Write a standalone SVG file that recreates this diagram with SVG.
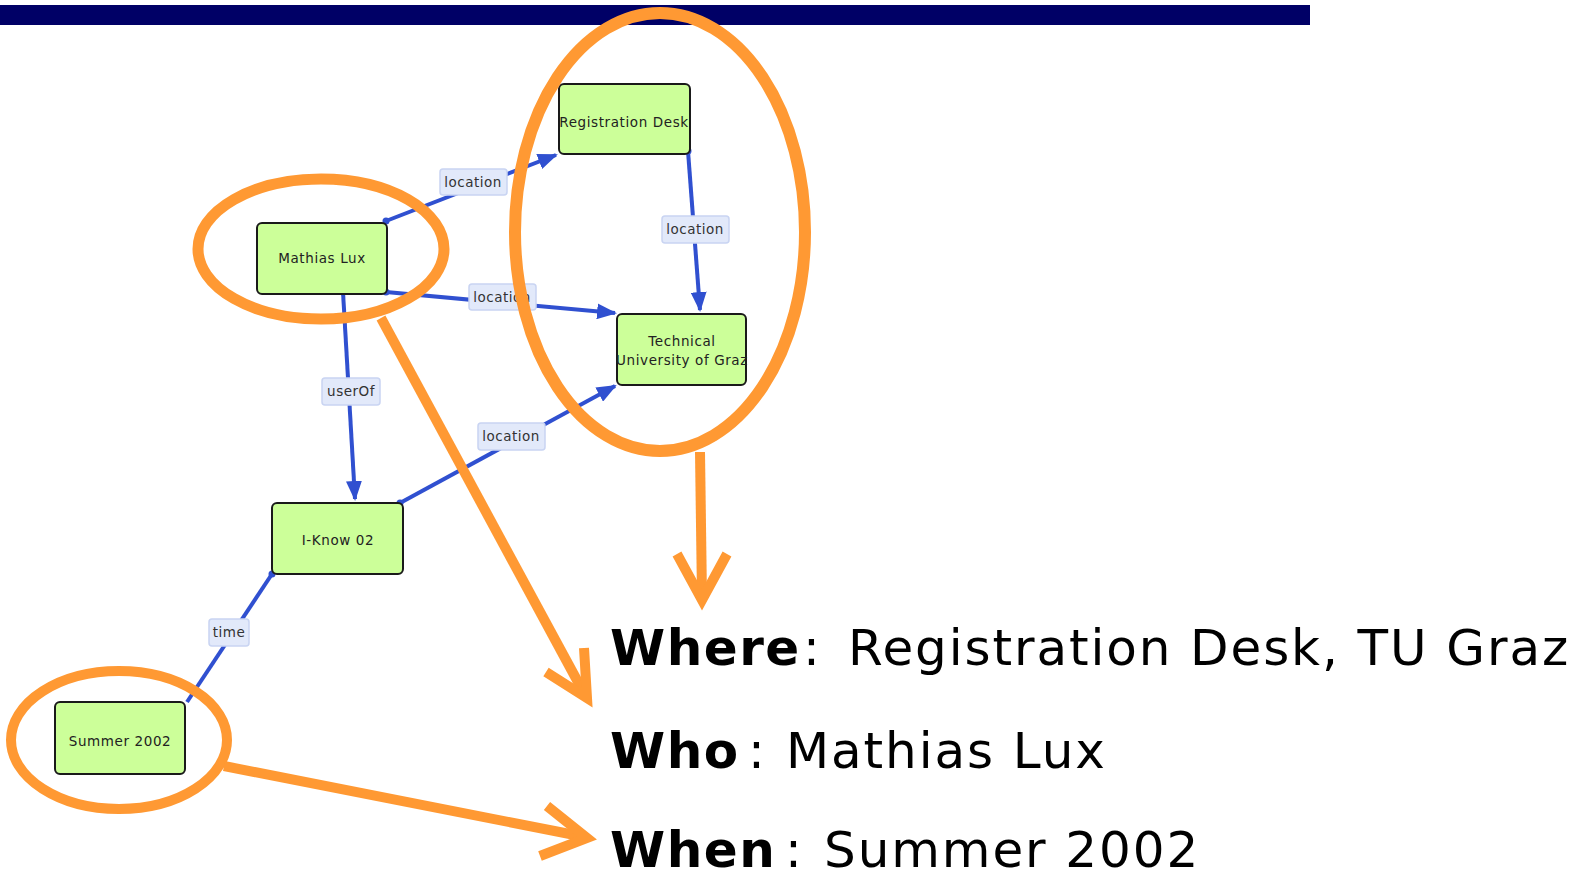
<svg xmlns="http://www.w3.org/2000/svg" width="1580" height="875" viewBox="0 0 1580 875">
<style>
.node rect{fill:#ccff99;stroke:#1a1a1a;stroke-width:2}
.node text{font-family:"DejaVu Sans",Verdana,sans-serif;font-size:13.5px;letter-spacing:0.6px;fill:#222;text-anchor:middle}
.edge{stroke:#3050d0;stroke-width:4;fill:none}
.dot{fill:#3050d0}
.lbl rect{fill:#e2e9fa;stroke:#c9d4f2;stroke-width:1.5}
.lbl text{font-family:"DejaVu Sans",Verdana,sans-serif;font-size:13.5px;letter-spacing:0.5px;fill:#333;text-anchor:middle}
.or{stroke:#ff9933;fill:none;stroke-linecap:butt;stroke-linejoin:miter}
.big{font-family:"DejaVu Sans",Verdana,sans-serif;font-size:50px;fill:#000}
.b{font-weight:bold;letter-spacing:1.5px}
.r{letter-spacing:1.9px}
</style>
<defs>
<marker id="ah" markerWidth="5" markerHeight="4" refX="4.5" refY="2" orient="auto" markerUnits="strokeWidth">
<path d="M0,0 L5,2 L0,4 z" fill="#3050d0"/>
</marker>
</defs>
<rect x="0" y="5" width="1310" height="20" fill="#000066"/>
<g id="connectors">
<line class="edge" x1="386" y1="221" x2="556" y2="155" marker-end="url(#ah)"/>
<line class="edge" x1="688" y1="151" x2="700" y2="310" marker-end="url(#ah)"/>
<line class="edge" x1="386" y1="292" x2="615" y2="313" marker-end="url(#ah)"/>
<line class="edge" x1="343" y1="292" x2="355" y2="499" marker-end="url(#ah)"/>
<line class="edge" x1="400" y1="503" x2="615" y2="386" marker-end="url(#ah)"/>
<line class="edge" x1="272" y1="574" x2="187" y2="702"/>
<circle class="dot" cx="386" cy="221" r="3.5"/>
<circle class="dot" cx="386" cy="292" r="3.5"/>
<circle class="dot" cx="343" cy="292" r="3.5"/>
<circle class="dot" cx="688" cy="151" r="3.5"/>
<circle class="dot" cx="400" cy="503" r="3.5"/>
<circle class="dot" cx="272" cy="574" r="3.5"/>
<g class="lbl"><rect x="440" y="169" width="67" height="26" rx="3"/><text x="473" y="187">location</text></g>
<g class="lbl"><rect x="662" y="216" width="67" height="27" rx="3"/><text x="695" y="234">location</text></g>
<g class="lbl"><rect x="469" y="284" width="67" height="26" rx="3"/><text x="502" y="302">location</text></g>
<g class="lbl"><rect x="322" y="378" width="58" height="27" rx="3"/><text x="351" y="396">userOf</text></g>
<g class="lbl"><rect x="478" y="423" width="67" height="27" rx="3"/><text x="511" y="441">location</text></g>
<g class="lbl"><rect x="209" y="619" width="40" height="27" rx="3"/><text x="229" y="637">time</text></g>
</g>
<g id="n-mathias" class="node"><rect x="257" y="223" width="130" height="71" rx="5"/><text x="322" y="263">Mathias Lux</text></g>
<g id="n-regdesk" class="node"><rect x="559" y="84" width="131" height="70" rx="5"/><text x="624" y="127">Registration Desk</text></g>
<g id="n-tug" class="node"><rect x="617" y="314" width="129" height="71" rx="5"/><text x="682" y="346">Technical</text><text x="682" y="365">University of Graz</text></g>
<g id="n-iknow" class="node"><rect x="272" y="503" width="131" height="71" rx="5"/><text x="338" y="545">I-Know 02</text></g>
<g id="n-summer" class="node"><rect x="55" y="702" width="130" height="72" rx="5"/><text x="120" y="746">Summer 2002</text></g>
<g id="annotations">
<ellipse class="or" cx="321" cy="249" rx="123" ry="70" stroke-width="11"/>
<ellipse class="or" cx="660" cy="232" rx="145" ry="219" stroke-width="12"/>
<ellipse class="or" cx="119" cy="740" rx="108" ry="69" stroke-width="10"/>
<line class="or" x1="700" y1="452" x2="702" y2="598" stroke-width="10"/>
<polyline class="or" points="677,554 702,600 727,554" stroke-width="10"/>
<line class="or" x1="381" y1="318" x2="585" y2="695" stroke-width="10"/>
<polyline class="or" points="546,672 587,698 584,648" stroke-width="10"/>
<line class="or" x1="224" y1="766" x2="585" y2="837" stroke-width="10"/>
<polyline class="or" points="547,806 587,838 540,856" stroke-width="10"/>
</g>
<text class="big" y="665"><tspan class="b" x="610">Where</tspan><tspan x="803">:</tspan><tspan class="r" x="848">Registration Desk, TU Graz</tspan></text>
<text class="big" y="768"><tspan class="b" x="610">Who</tspan><tspan x="748">:</tspan><tspan class="r" x="786">Mathias Lux</tspan></text>
<text class="big" y="867"><tspan class="b" x="610">When</tspan><tspan x="785">:</tspan><tspan class="r" x="824">Summer 2002</tspan></text>
</svg>
